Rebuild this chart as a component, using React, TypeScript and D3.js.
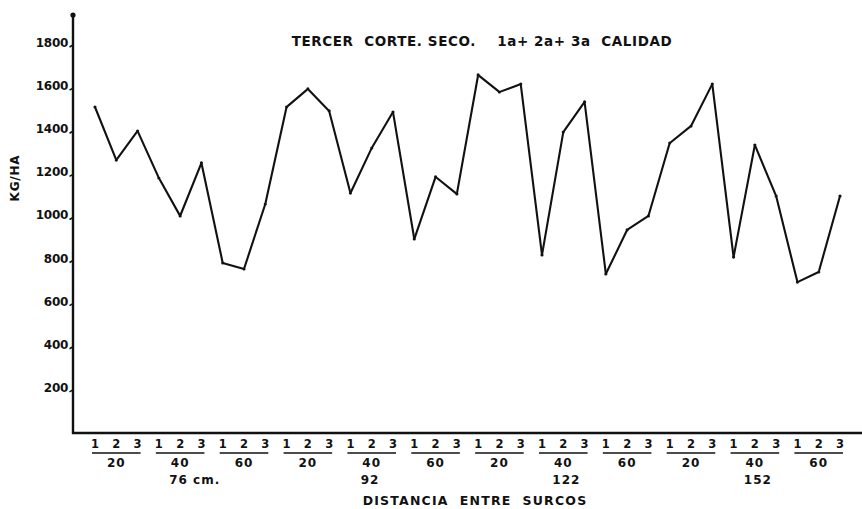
import React from "react";
import * as d3 from "d3";

const distances = ["76 cm.", "92", "122", "152"];
const intervals = ["20", "40", "60"];
const reps = ["1", "2", "3"];
const yields = [
  1512, 1266, 1401, 1183, 1007, 1253, 789, 761, 1062,
  1512, 1596, 1494, 1113, 1322, 1489, 900, 1188, 1109,
  1661, 1582, 1619, 826, 1396, 1536, 738, 942, 1007,
  1345, 1424, 1619, 816, 1336, 1099, 700, 747, 1099,
];
const yTicks = [200, 400, 600, 800, 1000, 1200, 1400, 1600, 1800];
const title = "TERCER  CORTE. SECO.    1a+ 2a+ 3a  CALIDAD";
const xTitle = "DISTANCIA  ENTRE  SURCOS";
const yTitle = "KG/HA";

const W = 862;
const H = 509;
const FONT = "'DejaVu Sans', sans-serif";

export default function App() {
  const x = d3.scaleLinear().domain([0, yields.length - 1]).range([95, 840]);
  const y = d3.scaleLinear().domain([0, 1800]).range([433, 45]);
  const axisX = 73;
  const gap = 1.8;

  const segs: { x1: number; y1: number; x2: number; y2: number }[] = [];
  for (let i = 0; i < yields.length - 1; i++) {
    const ax = x(i), ay = y(yields[i]), bx = x(i + 1), by = y(yields[i + 1]);
    const len = Math.hypot(bx - ax, by - ay);
    const ux = (bx - ax) / len, uy = (by - ay) / len;
    segs.push({ x1: ax + ux * gap, y1: ay + uy * gap, x2: bx - ux * gap, y2: by - uy * gap });
  }

  const groups: { idx: number; label: string }[] = [];
  distances.forEach((_, di) => intervals.forEach((iv, ii) => groups.push({ idx: di * 3 + ii, label: iv })));

  return (
    <svg width={W} height={H} style={{ position: "absolute", left: 0, top: 0, background: "#fff" }} fontFamily={FONT} fontWeight="bold" fill="#111">
      <rect x={0} y={0} width={W} height={H} fill="#fff" />
      {/* axes */}
      <line x1={axisX} y1={15} x2={axisX} y2={434} stroke="#111" strokeWidth={2.4} />
      <circle cx={axisX} cy={15} r={2.6} fill="#111" />
      <line x1={axisX - 1} y1={433} x2={W} y2={433} stroke="#111" strokeWidth={2.6} />
      {yTicks.map((t) => (
        <g key={t}>
          <line x1={axisX - 3.5} y1={y(t) + 2} x2={axisX} y2={y(t)} stroke="#111" strokeWidth={1.6} />
          <text x={axisX - 5} y={y(t) + 2} textAnchor="end" fontSize={12} letterSpacing={-0.3}>{t}</text>
        </g>
      ))}
      <text transform={`translate(19,178) rotate(-90)`} textAnchor="middle" fontSize={12} letterSpacing={0.8}>{yTitle}</text>
      {/* title */}
      <text x={482} y={46} textAnchor="middle" fontSize={13.5} letterSpacing={0.6} style={{ whiteSpace: "pre" }}>{title}</text>
      {/* data line */}
      {segs.map((s, i) => (
        <line key={i} x1={s.x1} y1={s.y1} x2={s.x2} y2={s.y2} stroke="#111" strokeWidth={2.1} strokeLinecap="round" />
      ))}
      {yields.map((v, i) => (
        <circle key={i} cx={x(i)} cy={y(v)} r={1.6} fill="#111" />
      ))}
      {/* x labels */}
      {yields.map((_, i) => (
        <text key={i} x={x(i)} y={448} textAnchor="middle" fontSize={11.5}>{reps[i % 3]}</text>
      ))}
      {groups.map((g) => (
        <g key={g.idx}>
          <line x1={x(g.idx * 3) - 3} y1={453} x2={x(g.idx * 3 + 2) + 3} y2={453} stroke="#111" strokeWidth={1.5} />
          <text x={x(g.idx * 3 + 1)} y={467} textAnchor="middle" fontSize={12} letterSpacing={1}>{g.label}</text>
        </g>
      ))}
      {distances.map((d, di) => (
        <text key={d} x={x(di * 9 + 4) - 11} y={484} textAnchor="start" fontSize={12} letterSpacing={1}>{d}</text>
      ))}
      <text x={475} y={505} textAnchor="middle" fontSize={12.5} letterSpacing={1.2} style={{ whiteSpace: "pre" }}>{xTitle}</text>
    </svg>
  );
}
